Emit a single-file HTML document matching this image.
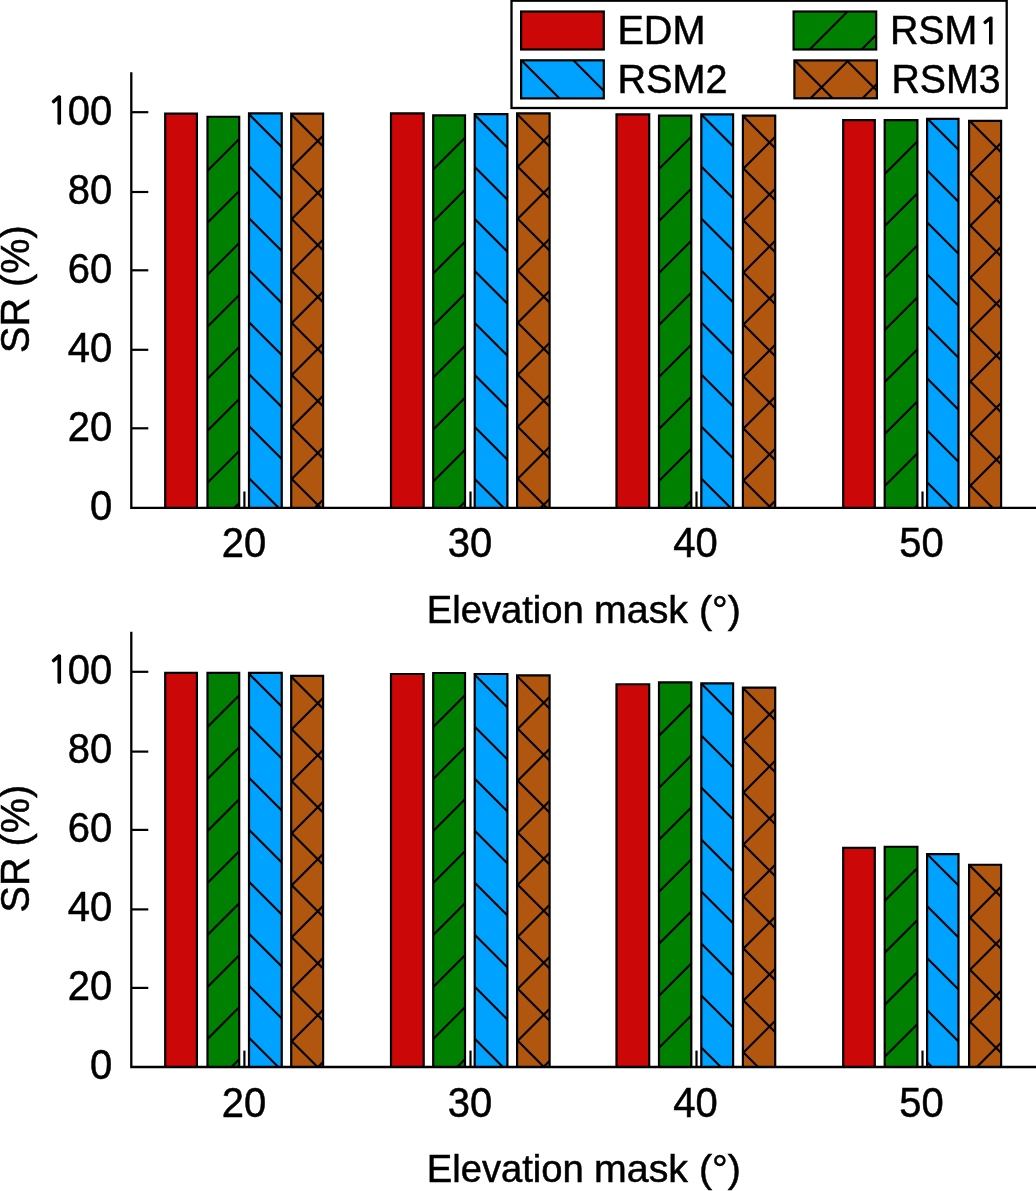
<!DOCTYPE html>
<html><head><meta charset="utf-8"><title>SR vs elevation mask</title>
<style>html,body{margin:0;padding:0;background:#fff}svg{display:block}text{font-family:"Liberation Sans",Arial,sans-serif;font-size:40px;fill:#000;stroke:#000;stroke-width:0.5px}tspan.n{font-family:"NanumGothic","Liberation Sans",sans-serif;font-size:35.9px;stroke-width:1.2px}text.l{font-size:39.6px}</style></head>
<body><svg width="1036" height="1191" viewBox="0 0 1036 1191">
<rect width="1036" height="1191" fill="#fff"/>
<path d="M244.40 507.9V491.5" stroke="#000" stroke-width="2.2"/><path d="M470.50 507.9V491.5" stroke="#000" stroke-width="2.2"/><path d="M696.50 507.9V491.5" stroke="#000" stroke-width="2.2"/><path d="M922.50 507.9V491.5" stroke="#000" stroke-width="2.2"/><rect x="165.20" y="113.55" width="31.70" height="394.35" fill="#CC0707"/><path d="M165.20 507.90V113.55H196.90V507.90" fill="none" stroke="#000" stroke-width="2.2"/><rect x="207.50" y="116.75" width="31.70" height="391.15" fill="#008000"/><clipPath id="c1"><rect x="207.50" y="116.75" width="31.70" height="391.15"/></clipPath><g clip-path="url(#c1)" stroke="#000" stroke-width="2.1" fill="none"><path d="M205.50 172.75L241.20 137.05"/><path d="M205.50 224.75L241.20 189.05"/><path d="M205.50 276.75L241.20 241.05"/><path d="M205.50 328.75L241.20 293.05"/><path d="M205.50 380.75L241.20 345.05"/><path d="M205.50 432.75L241.20 397.05"/><path d="M205.50 484.75L241.20 449.05"/><path d="M205.50 536.75L241.20 501.05"/><path d="M205.50 588.75L241.20 553.05"/><path d="M205.50 640.75L241.20 605.05"/></g><path d="M207.50 507.90V116.75H239.20V507.90" fill="none" stroke="#000" stroke-width="2.2"/><rect x="249.00" y="113.35" width="32.75" height="394.55" fill="#00A2FF"/><clipPath id="c2"><rect x="249.00" y="113.35" width="32.75" height="394.55"/></clipPath><g clip-path="url(#c2)" stroke="#000" stroke-width="2.1" fill="none"><path d="M247.00 60.15L283.75 96.90"/><path d="M247.00 112.15L283.75 148.90"/><path d="M247.00 164.15L283.75 200.90"/><path d="M247.00 216.15L283.75 252.90"/><path d="M247.00 268.15L283.75 304.90"/><path d="M247.00 320.15L283.75 356.90"/><path d="M247.00 372.15L283.75 408.90"/><path d="M247.00 424.15L283.75 460.90"/><path d="M247.00 476.15L283.75 512.90"/><path d="M247.00 528.15L283.75 564.90"/><path d="M247.00 580.15L283.75 616.90"/><path d="M247.00 632.15L283.75 668.90"/></g><path d="M249.00 507.90V113.35H281.75V507.90" fill="none" stroke="#000" stroke-width="2.2"/><rect x="291.20" y="113.55" width="31.90" height="394.35" fill="#B0560F"/><clipPath id="c3"><rect x="291.20" y="113.55" width="31.90" height="394.35"/></clipPath><g clip-path="url(#c3)" stroke="#000" stroke-width="2.1" fill="none"><path d="M289.20 169.55L325.10 133.65"/><path d="M289.20 221.55L325.10 185.65"/><path d="M289.20 273.55L325.10 237.65"/><path d="M289.20 325.55L325.10 289.65"/><path d="M289.20 377.55L325.10 341.65"/><path d="M289.20 429.55L325.10 393.65"/><path d="M289.20 481.55L325.10 445.65"/><path d="M289.20 533.55L325.10 497.65"/><path d="M289.20 585.55L325.10 549.65"/><path d="M289.20 637.55L325.10 601.65"/><path d="M289.20 60.35L325.10 96.25"/><path d="M289.20 112.35L325.10 148.25"/><path d="M289.20 164.35L325.10 200.25"/><path d="M289.20 216.35L325.10 252.25"/><path d="M289.20 268.35L325.10 304.25"/><path d="M289.20 320.35L325.10 356.25"/><path d="M289.20 372.35L325.10 408.25"/><path d="M289.20 424.35L325.10 460.25"/><path d="M289.20 476.35L325.10 512.25"/><path d="M289.20 528.35L325.10 564.25"/><path d="M289.20 580.35L325.10 616.25"/><path d="M289.20 632.35L325.10 668.25"/></g><path d="M291.20 507.90V113.55H323.10V507.90" fill="none" stroke="#000" stroke-width="2.2"/><rect x="391.00" y="113.35" width="32.70" height="394.55" fill="#CC0707"/><path d="M391.00 507.90V113.35H423.70V507.90" fill="none" stroke="#000" stroke-width="2.2"/><rect x="433.20" y="115.45" width="31.80" height="392.45" fill="#008000"/><clipPath id="c4"><rect x="433.20" y="115.45" width="31.80" height="392.45"/></clipPath><g clip-path="url(#c4)" stroke="#000" stroke-width="2.1" fill="none"><path d="M431.20 171.45L467.00 135.65"/><path d="M431.20 223.45L467.00 187.65"/><path d="M431.20 275.45L467.00 239.65"/><path d="M431.20 327.45L467.00 291.65"/><path d="M431.20 379.45L467.00 343.65"/><path d="M431.20 431.45L467.00 395.65"/><path d="M431.20 483.45L467.00 447.65"/><path d="M431.20 535.45L467.00 499.65"/><path d="M431.20 587.45L467.00 551.65"/><path d="M431.20 639.45L467.00 603.65"/></g><path d="M433.20 507.90V115.45H465.00V507.90" fill="none" stroke="#000" stroke-width="2.2"/><rect x="474.70" y="114.05" width="32.70" height="393.85" fill="#00A2FF"/><clipPath id="c5"><rect x="474.70" y="114.05" width="32.70" height="393.85"/></clipPath><g clip-path="url(#c5)" stroke="#000" stroke-width="2.1" fill="none"><path d="M472.70 60.85L509.40 97.55"/><path d="M472.70 112.85L509.40 149.55"/><path d="M472.70 164.85L509.40 201.55"/><path d="M472.70 216.85L509.40 253.55"/><path d="M472.70 268.85L509.40 305.55"/><path d="M472.70 320.85L509.40 357.55"/><path d="M472.70 372.85L509.40 409.55"/><path d="M472.70 424.85L509.40 461.55"/><path d="M472.70 476.85L509.40 513.55"/><path d="M472.70 528.85L509.40 565.55"/><path d="M472.70 580.85L509.40 617.55"/><path d="M472.70 632.85L509.40 669.55"/></g><path d="M474.70 507.90V114.05H507.40V507.90" fill="none" stroke="#000" stroke-width="2.2"/><rect x="517.10" y="113.35" width="32.50" height="394.55" fill="#B0560F"/><clipPath id="c6"><rect x="517.10" y="113.35" width="32.50" height="394.55"/></clipPath><g clip-path="url(#c6)" stroke="#000" stroke-width="2.1" fill="none"><path d="M515.10 169.35L551.60 132.85"/><path d="M515.10 221.35L551.60 184.85"/><path d="M515.10 273.35L551.60 236.85"/><path d="M515.10 325.35L551.60 288.85"/><path d="M515.10 377.35L551.60 340.85"/><path d="M515.10 429.35L551.60 392.85"/><path d="M515.10 481.35L551.60 444.85"/><path d="M515.10 533.35L551.60 496.85"/><path d="M515.10 585.35L551.60 548.85"/><path d="M515.10 637.35L551.60 600.85"/><path d="M515.10 60.15L551.60 96.65"/><path d="M515.10 112.15L551.60 148.65"/><path d="M515.10 164.15L551.60 200.65"/><path d="M515.10 216.15L551.60 252.65"/><path d="M515.10 268.15L551.60 304.65"/><path d="M515.10 320.15L551.60 356.65"/><path d="M515.10 372.15L551.60 408.65"/><path d="M515.10 424.15L551.60 460.65"/><path d="M515.10 476.15L551.60 512.65"/><path d="M515.10 528.15L551.60 564.65"/><path d="M515.10 580.15L551.60 616.65"/><path d="M515.10 632.15L551.60 668.65"/></g><path d="M517.10 507.90V113.35H549.60V507.90" fill="none" stroke="#000" stroke-width="2.2"/><rect x="616.50" y="114.45" width="32.70" height="393.45" fill="#CC0707"/><path d="M616.50 507.90V114.45H649.20V507.90" fill="none" stroke="#000" stroke-width="2.2"/><rect x="659.00" y="115.65" width="32.30" height="392.25" fill="#008000"/><clipPath id="c7"><rect x="659.00" y="115.65" width="32.30" height="392.25"/></clipPath><g clip-path="url(#c7)" stroke="#000" stroke-width="2.1" fill="none"><path d="M657.00 171.05L693.30 134.75"/><path d="M657.00 223.05L693.30 186.75"/><path d="M657.00 275.05L693.30 238.75"/><path d="M657.00 327.05L693.30 290.75"/><path d="M657.00 379.05L693.30 342.75"/><path d="M657.00 431.05L693.30 394.75"/><path d="M657.00 483.05L693.30 446.75"/><path d="M657.00 535.05L693.30 498.75"/><path d="M657.00 587.05L693.30 550.75"/><path d="M657.00 639.05L693.30 602.75"/></g><path d="M659.00 507.90V115.65H691.30V507.90" fill="none" stroke="#000" stroke-width="2.2"/><rect x="701.30" y="114.35" width="31.80" height="393.55" fill="#00A2FF"/><clipPath id="c8"><rect x="701.30" y="114.35" width="31.80" height="393.55"/></clipPath><g clip-path="url(#c8)" stroke="#000" stroke-width="2.1" fill="none"><path d="M699.30 60.55L735.10 96.35"/><path d="M699.30 112.55L735.10 148.35"/><path d="M699.30 164.55L735.10 200.35"/><path d="M699.30 216.55L735.10 252.35"/><path d="M699.30 268.55L735.10 304.35"/><path d="M699.30 320.55L735.10 356.35"/><path d="M699.30 372.55L735.10 408.35"/><path d="M699.30 424.55L735.10 460.35"/><path d="M699.30 476.55L735.10 512.35"/><path d="M699.30 528.55L735.10 564.35"/><path d="M699.30 580.55L735.10 616.35"/><path d="M699.30 632.55L735.10 668.35"/></g><path d="M701.30 507.90V114.35H733.10V507.90" fill="none" stroke="#000" stroke-width="2.2"/><rect x="742.90" y="115.65" width="32.30" height="392.25" fill="#B0560F"/><clipPath id="c9"><rect x="742.90" y="115.65" width="32.30" height="392.25"/></clipPath><g clip-path="url(#c9)" stroke="#000" stroke-width="2.1" fill="none"><path d="M740.90 171.05L777.20 134.75"/><path d="M740.90 223.05L777.20 186.75"/><path d="M740.90 275.05L777.20 238.75"/><path d="M740.90 327.05L777.20 290.75"/><path d="M740.90 379.05L777.20 342.75"/><path d="M740.90 431.05L777.20 394.75"/><path d="M740.90 483.05L777.20 446.75"/><path d="M740.90 535.05L777.20 498.75"/><path d="M740.90 587.05L777.20 550.75"/><path d="M740.90 639.05L777.20 602.75"/><path d="M740.90 61.85L777.20 98.15"/><path d="M740.90 113.85L777.20 150.15"/><path d="M740.90 165.85L777.20 202.15"/><path d="M740.90 217.85L777.20 254.15"/><path d="M740.90 269.85L777.20 306.15"/><path d="M740.90 321.85L777.20 358.15"/><path d="M740.90 373.85L777.20 410.15"/><path d="M740.90 425.85L777.20 462.15"/><path d="M740.90 477.85L777.20 514.15"/><path d="M740.90 529.85L777.20 566.15"/><path d="M740.90 581.85L777.20 618.15"/><path d="M740.90 633.85L777.20 670.15"/></g><path d="M742.90 507.90V115.65H775.20V507.90" fill="none" stroke="#000" stroke-width="2.2"/><rect x="843.20" y="120.05" width="31.60" height="387.85" fill="#CC0707"/><path d="M843.20 507.90V120.05H874.80V507.90" fill="none" stroke="#000" stroke-width="2.2"/><rect x="884.70" y="120.05" width="32.70" height="387.85" fill="#008000"/><clipPath id="c10"><rect x="884.70" y="120.05" width="32.70" height="387.85"/></clipPath><g clip-path="url(#c10)" stroke="#000" stroke-width="2.1" fill="none"><path d="M882.70 176.05L919.40 139.35"/><path d="M882.70 228.05L919.40 191.35"/><path d="M882.70 280.05L919.40 243.35"/><path d="M882.70 332.05L919.40 295.35"/><path d="M882.70 384.05L919.40 347.35"/><path d="M882.70 436.05L919.40 399.35"/><path d="M882.70 488.05L919.40 451.35"/><path d="M882.70 540.05L919.40 503.35"/><path d="M882.70 592.05L919.40 555.35"/><path d="M882.70 644.05L919.40 607.35"/></g><path d="M884.70 507.90V120.05H917.40V507.90" fill="none" stroke="#000" stroke-width="2.2"/><rect x="927.10" y="118.95" width="31.40" height="388.95" fill="#00A2FF"/><clipPath id="c11"><rect x="927.10" y="118.95" width="31.40" height="388.95"/></clipPath><g clip-path="url(#c11)" stroke="#000" stroke-width="2.1" fill="none"><path d="M925.10 64.35L960.50 99.75"/><path d="M925.10 116.35L960.50 151.75"/><path d="M925.10 168.35L960.50 203.75"/><path d="M925.10 220.35L960.50 255.75"/><path d="M925.10 272.35L960.50 307.75"/><path d="M925.10 324.35L960.50 359.75"/><path d="M925.10 376.35L960.50 411.75"/><path d="M925.10 428.35L960.50 463.75"/><path d="M925.10 480.35L960.50 515.75"/><path d="M925.10 532.35L960.50 567.75"/><path d="M925.10 584.35L960.50 619.75"/><path d="M925.10 636.35L960.50 671.75"/></g><path d="M927.10 507.90V118.95H958.50V507.90" fill="none" stroke="#000" stroke-width="2.2"/><rect x="969.10" y="120.95" width="32.00" height="386.95" fill="#B0560F"/><clipPath id="c12"><rect x="969.10" y="120.95" width="32.00" height="386.95"/></clipPath><g clip-path="url(#c12)" stroke="#000" stroke-width="2.1" fill="none"><path d="M967.10 176.95L1003.10 140.95"/><path d="M967.10 228.95L1003.10 192.95"/><path d="M967.10 280.95L1003.10 244.95"/><path d="M967.10 332.95L1003.10 296.95"/><path d="M967.10 384.95L1003.10 348.95"/><path d="M967.10 436.95L1003.10 400.95"/><path d="M967.10 488.95L1003.10 452.95"/><path d="M967.10 540.95L1003.10 504.95"/><path d="M967.10 592.95L1003.10 556.95"/><path d="M967.10 644.95L1003.10 608.95"/><path d="M967.10 66.35L1003.10 102.35"/><path d="M967.10 118.35L1003.10 154.35"/><path d="M967.10 170.35L1003.10 206.35"/><path d="M967.10 222.35L1003.10 258.35"/><path d="M967.10 274.35L1003.10 310.35"/><path d="M967.10 326.35L1003.10 362.35"/><path d="M967.10 378.35L1003.10 414.35"/><path d="M967.10 430.35L1003.10 466.35"/><path d="M967.10 482.35L1003.10 518.35"/><path d="M967.10 534.35L1003.10 570.35"/><path d="M967.10 586.35L1003.10 622.35"/><path d="M967.10 638.35L1003.10 674.35"/></g><path d="M969.10 507.90V120.95H1001.10V507.90" fill="none" stroke="#000" stroke-width="2.2"/><path d="M131.3 72.3V509.0M130.20000000000002 507.9H1036" stroke="#000" stroke-width="2.3" fill="none"/><text transform="translate(112.3 520.05) scale(1 1.05)" text-anchor="end">0</text><path d="M131.3 428.30H148.3" stroke="#000" stroke-width="2.2"/><text transform="translate(112.3 441.02) scale(1 1.05)" text-anchor="end">20</text><path d="M131.3 349.80H148.3" stroke="#000" stroke-width="2.2"/><text transform="translate(112.3 361.99) scale(1 1.05)" text-anchor="end">40</text><path d="M131.3 270.30H148.3" stroke="#000" stroke-width="2.2"/><text transform="translate(112.3 282.96) scale(1 1.05)" text-anchor="end">60</text><path d="M131.3 192.00H148.3" stroke="#000" stroke-width="2.2"/><text transform="translate(112.3 203.93) scale(1 1.05)" text-anchor="end">80</text><path d="M131.3 112.20H148.3" stroke="#000" stroke-width="2.2"/><text transform="translate(112.3 124.90) scale(1 1.05)" text-anchor="end"><tspan class="n" dy="-0.9">1</tspan><tspan dx="-1.3" dy="0.9">00</tspan></text><text transform="translate(244.10 557.25) scale(1 1.055)" text-anchor="middle">20</text><text transform="translate(470.00 557.25) scale(1 1.055)" text-anchor="middle">30</text><text transform="translate(695.50 557.25) scale(1 1.055)" text-anchor="middle">40</text><text transform="translate(921.40 557.25) scale(1 1.055)" text-anchor="middle">50</text><text x="426.7" y="622.6"><tspan style="font-size:38.2px">Elevation</tspan><tspan style="font-size:39.3px" dx="-0.6"> mask (°)</tspan></text><text transform="translate(29.4 289.15) rotate(-90) scale(1 1.045)" style="font-size:39.6px" text-anchor="middle">SR (%)</text><path d="M244.40 1067.0V1050.6" stroke="#000" stroke-width="2.2"/><path d="M470.50 1067.0V1050.6" stroke="#000" stroke-width="2.2"/><path d="M696.50 1067.0V1050.6" stroke="#000" stroke-width="2.2"/><path d="M922.50 1067.0V1050.6" stroke="#000" stroke-width="2.2"/><rect x="165.20" y="672.90" width="31.70" height="394.10" fill="#CC0707"/><path d="M165.20 1067.00V672.90H196.90V1067.00" fill="none" stroke="#000" stroke-width="2.2"/><rect x="207.50" y="672.90" width="31.70" height="394.10" fill="#008000"/><clipPath id="c13"><rect x="207.50" y="672.90" width="31.70" height="394.10"/></clipPath><g clip-path="url(#c13)" stroke="#000" stroke-width="2.1" fill="none"><path d="M205.50 728.90L241.20 693.20"/><path d="M205.50 780.90L241.20 745.20"/><path d="M205.50 832.90L241.20 797.20"/><path d="M205.50 884.90L241.20 849.20"/><path d="M205.50 936.90L241.20 901.20"/><path d="M205.50 988.90L241.20 953.20"/><path d="M205.50 1040.90L241.20 1005.20"/><path d="M205.50 1092.90L241.20 1057.20"/><path d="M205.50 1144.90L241.20 1109.20"/><path d="M205.50 1196.90L241.20 1161.20"/></g><path d="M207.50 1067.00V672.90H239.20V1067.00" fill="none" stroke="#000" stroke-width="2.2"/><rect x="249.00" y="672.90" width="32.75" height="394.10" fill="#00A2FF"/><clipPath id="c14"><rect x="249.00" y="672.90" width="32.75" height="394.10"/></clipPath><g clip-path="url(#c14)" stroke="#000" stroke-width="2.1" fill="none"><path d="M247.00 619.70L283.75 656.45"/><path d="M247.00 671.70L283.75 708.45"/><path d="M247.00 723.70L283.75 760.45"/><path d="M247.00 775.70L283.75 812.45"/><path d="M247.00 827.70L283.75 864.45"/><path d="M247.00 879.70L283.75 916.45"/><path d="M247.00 931.70L283.75 968.45"/><path d="M247.00 983.70L283.75 1020.45"/><path d="M247.00 1035.70L283.75 1072.45"/><path d="M247.00 1087.70L283.75 1124.45"/><path d="M247.00 1139.70L283.75 1176.45"/><path d="M247.00 1191.70L283.75 1228.45"/></g><path d="M249.00 1067.00V672.90H281.75V1067.00" fill="none" stroke="#000" stroke-width="2.2"/><rect x="291.20" y="675.85" width="31.90" height="391.15" fill="#B0560F"/><clipPath id="c15"><rect x="291.20" y="675.85" width="31.90" height="391.15"/></clipPath><g clip-path="url(#c15)" stroke="#000" stroke-width="2.1" fill="none"><path d="M289.20 731.85L325.10 695.95"/><path d="M289.20 783.85L325.10 747.95"/><path d="M289.20 835.85L325.10 799.95"/><path d="M289.20 887.85L325.10 851.95"/><path d="M289.20 939.85L325.10 903.95"/><path d="M289.20 991.85L325.10 955.95"/><path d="M289.20 1043.85L325.10 1007.95"/><path d="M289.20 1095.85L325.10 1059.95"/><path d="M289.20 1147.85L325.10 1111.95"/><path d="M289.20 1199.85L325.10 1163.95"/><path d="M289.20 622.65L325.10 658.55"/><path d="M289.20 674.65L325.10 710.55"/><path d="M289.20 726.65L325.10 762.55"/><path d="M289.20 778.65L325.10 814.55"/><path d="M289.20 830.65L325.10 866.55"/><path d="M289.20 882.65L325.10 918.55"/><path d="M289.20 934.65L325.10 970.55"/><path d="M289.20 986.65L325.10 1022.55"/><path d="M289.20 1038.65L325.10 1074.55"/><path d="M289.20 1090.65L325.10 1126.55"/><path d="M289.20 1142.65L325.10 1178.55"/><path d="M289.20 1194.65L325.10 1230.55"/></g><path d="M291.20 1067.00V675.85H323.10V1067.00" fill="none" stroke="#000" stroke-width="2.2"/><rect x="391.00" y="674.00" width="32.70" height="393.00" fill="#CC0707"/><path d="M391.00 1067.00V674.00H423.70V1067.00" fill="none" stroke="#000" stroke-width="2.2"/><rect x="433.20" y="673.00" width="31.80" height="394.00" fill="#008000"/><clipPath id="c16"><rect x="433.20" y="673.00" width="31.80" height="394.00"/></clipPath><g clip-path="url(#c16)" stroke="#000" stroke-width="2.1" fill="none"><path d="M431.20 729.00L467.00 693.20"/><path d="M431.20 781.00L467.00 745.20"/><path d="M431.20 833.00L467.00 797.20"/><path d="M431.20 885.00L467.00 849.20"/><path d="M431.20 937.00L467.00 901.20"/><path d="M431.20 989.00L467.00 953.20"/><path d="M431.20 1041.00L467.00 1005.20"/><path d="M431.20 1093.00L467.00 1057.20"/><path d="M431.20 1145.00L467.00 1109.20"/><path d="M431.20 1197.00L467.00 1161.20"/></g><path d="M433.20 1067.00V673.00H465.00V1067.00" fill="none" stroke="#000" stroke-width="2.2"/><rect x="474.70" y="674.00" width="32.70" height="393.00" fill="#00A2FF"/><clipPath id="c17"><rect x="474.70" y="674.00" width="32.70" height="393.00"/></clipPath><g clip-path="url(#c17)" stroke="#000" stroke-width="2.1" fill="none"><path d="M472.70 620.80L509.40 657.50"/><path d="M472.70 672.80L509.40 709.50"/><path d="M472.70 724.80L509.40 761.50"/><path d="M472.70 776.80L509.40 813.50"/><path d="M472.70 828.80L509.40 865.50"/><path d="M472.70 880.80L509.40 917.50"/><path d="M472.70 932.80L509.40 969.50"/><path d="M472.70 984.80L509.40 1021.50"/><path d="M472.70 1036.80L509.40 1073.50"/><path d="M472.70 1088.80L509.40 1125.50"/><path d="M472.70 1140.80L509.40 1177.50"/><path d="M472.70 1192.80L509.40 1229.50"/></g><path d="M474.70 1067.00V674.00H507.40V1067.00" fill="none" stroke="#000" stroke-width="2.2"/><rect x="517.10" y="675.40" width="32.50" height="391.60" fill="#B0560F"/><clipPath id="c18"><rect x="517.10" y="675.40" width="32.50" height="391.60"/></clipPath><g clip-path="url(#c18)" stroke="#000" stroke-width="2.1" fill="none"><path d="M515.10 731.40L551.60 694.90"/><path d="M515.10 783.40L551.60 746.90"/><path d="M515.10 835.40L551.60 798.90"/><path d="M515.10 887.40L551.60 850.90"/><path d="M515.10 939.40L551.60 902.90"/><path d="M515.10 991.40L551.60 954.90"/><path d="M515.10 1043.40L551.60 1006.90"/><path d="M515.10 1095.40L551.60 1058.90"/><path d="M515.10 1147.40L551.60 1110.90"/><path d="M515.10 1199.40L551.60 1162.90"/><path d="M515.10 622.20L551.60 658.70"/><path d="M515.10 674.20L551.60 710.70"/><path d="M515.10 726.20L551.60 762.70"/><path d="M515.10 778.20L551.60 814.70"/><path d="M515.10 830.20L551.60 866.70"/><path d="M515.10 882.20L551.60 918.70"/><path d="M515.10 934.20L551.60 970.70"/><path d="M515.10 986.20L551.60 1022.70"/><path d="M515.10 1038.20L551.60 1074.70"/><path d="M515.10 1090.20L551.60 1126.70"/><path d="M515.10 1142.20L551.60 1178.70"/><path d="M515.10 1194.20L551.60 1230.70"/></g><path d="M517.10 1067.00V675.40H549.60V1067.00" fill="none" stroke="#000" stroke-width="2.2"/><rect x="616.50" y="684.25" width="32.70" height="382.75" fill="#CC0707"/><path d="M616.50 1067.00V684.25H649.20V1067.00" fill="none" stroke="#000" stroke-width="2.2"/><rect x="659.00" y="682.40" width="32.30" height="384.60" fill="#008000"/><clipPath id="c19"><rect x="659.00" y="682.40" width="32.30" height="384.60"/></clipPath><g clip-path="url(#c19)" stroke="#000" stroke-width="2.1" fill="none"><path d="M657.00 737.80L693.30 701.50"/><path d="M657.00 789.80L693.30 753.50"/><path d="M657.00 841.80L693.30 805.50"/><path d="M657.00 893.80L693.30 857.50"/><path d="M657.00 945.80L693.30 909.50"/><path d="M657.00 997.80L693.30 961.50"/><path d="M657.00 1049.80L693.30 1013.50"/><path d="M657.00 1101.80L693.30 1065.50"/><path d="M657.00 1153.80L693.30 1117.50"/><path d="M657.00 1205.80L693.30 1169.50"/></g><path d="M659.00 1067.00V682.40H691.30V1067.00" fill="none" stroke="#000" stroke-width="2.2"/><rect x="701.30" y="683.30" width="31.80" height="383.70" fill="#00A2FF"/><clipPath id="c20"><rect x="701.30" y="683.30" width="31.80" height="383.70"/></clipPath><g clip-path="url(#c20)" stroke="#000" stroke-width="2.1" fill="none"><path d="M699.30 629.50L735.10 665.30"/><path d="M699.30 681.50L735.10 717.30"/><path d="M699.30 733.50L735.10 769.30"/><path d="M699.30 785.50L735.10 821.30"/><path d="M699.30 837.50L735.10 873.30"/><path d="M699.30 889.50L735.10 925.30"/><path d="M699.30 941.50L735.10 977.30"/><path d="M699.30 993.50L735.10 1029.30"/><path d="M699.30 1045.50L735.10 1081.30"/><path d="M699.30 1097.50L735.10 1133.30"/><path d="M699.30 1149.50L735.10 1185.30"/></g><path d="M701.30 1067.00V683.30H733.10V1067.00" fill="none" stroke="#000" stroke-width="2.2"/><rect x="742.90" y="687.65" width="32.30" height="379.35" fill="#B0560F"/><clipPath id="c21"><rect x="742.90" y="687.65" width="32.30" height="379.35"/></clipPath><g clip-path="url(#c21)" stroke="#000" stroke-width="2.1" fill="none"><path d="M740.90 743.05L777.20 706.75"/><path d="M740.90 795.05L777.20 758.75"/><path d="M740.90 847.05L777.20 810.75"/><path d="M740.90 899.05L777.20 862.75"/><path d="M740.90 951.05L777.20 914.75"/><path d="M740.90 1003.05L777.20 966.75"/><path d="M740.90 1055.05L777.20 1018.75"/><path d="M740.90 1107.05L777.20 1070.75"/><path d="M740.90 1159.05L777.20 1122.75"/><path d="M740.90 633.85L777.20 670.15"/><path d="M740.90 685.85L777.20 722.15"/><path d="M740.90 737.85L777.20 774.15"/><path d="M740.90 789.85L777.20 826.15"/><path d="M740.90 841.85L777.20 878.15"/><path d="M740.90 893.85L777.20 930.15"/><path d="M740.90 945.85L777.20 982.15"/><path d="M740.90 997.85L777.20 1034.15"/><path d="M740.90 1049.85L777.20 1086.15"/><path d="M740.90 1101.85L777.20 1138.15"/><path d="M740.90 1153.85L777.20 1190.15"/></g><path d="M742.90 1067.00V687.65H775.20V1067.00" fill="none" stroke="#000" stroke-width="2.2"/><rect x="843.20" y="847.95" width="31.60" height="219.05" fill="#CC0707"/><path d="M843.20 1067.00V847.95H874.80V1067.00" fill="none" stroke="#000" stroke-width="2.2"/><rect x="884.70" y="846.75" width="32.70" height="220.25" fill="#008000"/><clipPath id="c22"><rect x="884.70" y="846.75" width="32.70" height="220.25"/></clipPath><g clip-path="url(#c22)" stroke="#000" stroke-width="2.1" fill="none"><path d="M882.70 902.75L919.40 866.05"/><path d="M882.70 954.75L919.40 918.05"/><path d="M882.70 1006.75L919.40 970.05"/><path d="M882.70 1058.75L919.40 1022.05"/><path d="M882.70 1110.75L919.40 1074.05"/><path d="M882.70 1162.75L919.40 1126.05"/></g><path d="M884.70 1067.00V846.75H917.40V1067.00" fill="none" stroke="#000" stroke-width="2.2"/><rect x="927.10" y="854.15" width="31.40" height="212.85" fill="#00A2FF"/><clipPath id="c23"><rect x="927.10" y="854.15" width="31.40" height="212.85"/></clipPath><g clip-path="url(#c23)" stroke="#000" stroke-width="2.1" fill="none"><path d="M925.10 800.15L960.50 835.55"/><path d="M925.10 852.15L960.50 887.55"/><path d="M925.10 904.15L960.50 939.55"/><path d="M925.10 956.15L960.50 991.55"/><path d="M925.10 1008.15L960.50 1043.55"/><path d="M925.10 1060.15L960.50 1095.55"/><path d="M925.10 1112.15L960.50 1147.55"/><path d="M925.10 1164.15L960.50 1199.55"/></g><path d="M927.10 1067.00V854.15H958.50V1067.00" fill="none" stroke="#000" stroke-width="2.2"/><rect x="969.10" y="864.75" width="32.00" height="202.25" fill="#B0560F"/><clipPath id="c24"><rect x="969.10" y="864.75" width="32.00" height="202.25"/></clipPath><g clip-path="url(#c24)" stroke="#000" stroke-width="2.1" fill="none"><path d="M967.10 920.75L1003.10 884.75"/><path d="M967.10 972.75L1003.10 936.75"/><path d="M967.10 1024.75L1003.10 988.75"/><path d="M967.10 1076.75L1003.10 1040.75"/><path d="M967.10 1128.75L1003.10 1092.75"/><path d="M967.10 1180.75L1003.10 1144.75"/><path d="M967.10 810.75L1003.10 846.75"/><path d="M967.10 862.75L1003.10 898.75"/><path d="M967.10 914.75L1003.10 950.75"/><path d="M967.10 966.75L1003.10 1002.75"/><path d="M967.10 1018.75L1003.10 1054.75"/><path d="M967.10 1070.75L1003.10 1106.75"/><path d="M967.10 1122.75L1003.10 1158.75"/><path d="M967.10 1174.75L1003.10 1210.75"/></g><path d="M969.10 1067.00V864.75H1001.10V1067.00" fill="none" stroke="#000" stroke-width="2.2"/><path d="M131.3 631.8V1068.1M130.20000000000002 1067.0H1036" stroke="#000" stroke-width="2.3" fill="none"/><text transform="translate(112.3 1079.05) scale(1 1.05)" text-anchor="end">0</text><path d="M131.3 987.90H148.3" stroke="#000" stroke-width="2.2"/><text transform="translate(112.3 1000.02) scale(1 1.05)" text-anchor="end">20</text><path d="M131.3 909.40H148.3" stroke="#000" stroke-width="2.2"/><text transform="translate(112.3 920.99) scale(1 1.05)" text-anchor="end">40</text><path d="M131.3 829.90H148.3" stroke="#000" stroke-width="2.2"/><text transform="translate(112.3 841.96) scale(1 1.05)" text-anchor="end">60</text><path d="M131.3 751.60H148.3" stroke="#000" stroke-width="2.2"/><text transform="translate(112.3 762.93) scale(1 1.05)" text-anchor="end">80</text><path d="M131.3 671.80H148.3" stroke="#000" stroke-width="2.2"/><text transform="translate(112.3 683.90) scale(1 1.05)" text-anchor="end"><tspan class="n" dy="-0.9">1</tspan><tspan dx="-1.3" dy="0.9">00</tspan></text><text transform="translate(244.10 1116.60) scale(1 1.055)" text-anchor="middle">20</text><text transform="translate(470.00 1116.60) scale(1 1.055)" text-anchor="middle">30</text><text transform="translate(695.50 1116.60) scale(1 1.055)" text-anchor="middle">40</text><text transform="translate(921.40 1116.60) scale(1 1.055)" text-anchor="middle">50</text><text x="426.7" y="1182.2"><tspan style="font-size:38.2px">Elevation</tspan><tspan style="font-size:39.3px" dx="-0.6"> mask (°)</tspan></text><text transform="translate(29.4 848.70) rotate(-90) scale(1 1.045)" style="font-size:39.6px" text-anchor="middle">SR (%)</text><rect x="511.5" y="0.7" width="495.20" height="107.30" fill="#fff" stroke="#000" stroke-width="2.3"/><rect x="521.10" y="11.50" width="82.70" height="38.00" fill="#CC0707"/><rect x="521.10" y="11.50" width="82.70" height="38.00" fill="none" stroke="#000" stroke-width="2.2"/><rect x="521.10" y="60.30" width="82.70" height="38.10" fill="#00A2FF"/><clipPath id="c25"><rect x="521.10" y="60.30" width="82.70" height="38.10"/></clipPath><g clip-path="url(#c25)" stroke="#000" stroke-width="2.1" fill="none"><path d="M519.10 -46.00L605.80 40.70"/><path d="M519.10 6.00L605.80 92.70"/><path d="M519.10 58.00L605.80 144.70"/><path d="M519.10 110.00L605.80 196.70"/><path d="M519.10 162.00L605.80 248.70"/><path d="M519.10 214.00L605.80 300.70"/><path d="M519.10 266.00L605.80 352.70"/></g><rect x="521.10" y="60.30" width="82.70" height="38.10" fill="none" stroke="#000" stroke-width="2.2"/><rect x="793.60" y="11.50" width="82.60" height="38.00" fill="#008000"/><clipPath id="c26"><rect x="793.60" y="11.50" width="82.60" height="38.00"/></clipPath><g clip-path="url(#c26)" stroke="#000" stroke-width="2.1" fill="none"><path d="M791.60 67.50L878.20 -19.10"/><path d="M791.60 119.50L878.20 32.90"/><path d="M791.60 171.50L878.20 84.90"/><path d="M791.60 223.50L878.20 136.90"/></g><rect x="793.60" y="11.50" width="82.60" height="38.00" fill="none" stroke="#000" stroke-width="2.2"/><rect x="794.40" y="60.40" width="82.50" height="37.90" fill="#B0560F"/><clipPath id="c27"><rect x="794.40" y="60.40" width="82.50" height="37.90"/></clipPath><g clip-path="url(#c27)" stroke="#000" stroke-width="2.1" fill="none"><path d="M792.40 116.40L878.90 29.90"/><path d="M792.40 168.40L878.90 81.90"/><path d="M792.40 220.40L878.90 133.90"/><path d="M792.40 272.40L878.90 185.90"/><path d="M792.40 -45.90L878.90 40.60"/><path d="M792.40 6.10L878.90 92.60"/><path d="M792.40 58.10L878.90 144.60"/><path d="M792.40 110.10L878.90 196.60"/><path d="M792.40 162.10L878.90 248.60"/><path d="M792.40 214.10L878.90 300.60"/><path d="M792.40 266.10L878.90 352.60"/></g><rect x="794.40" y="60.40" width="82.50" height="37.90" fill="none" stroke="#000" stroke-width="2.2"/><g><text style="font-size:39.6px" transform="translate(617.4 44.2) scale(1 1.012)">EDM</text><text style="font-size:39.6px" transform="translate(617.4 93.0) scale(1 1.012)">RSM2</text><text style="font-size:39.4px" transform="translate(889.9 44.4) scale(1 1.018)">RSM<tspan class="n" style="font-size:35.3px" dx="1.5" dy="-0.6">1</tspan></text><text style="font-size:39.3px" transform="translate(891.4 93.0) scale(1 1.02)">RSM3</text></g>
</svg></body></html>
